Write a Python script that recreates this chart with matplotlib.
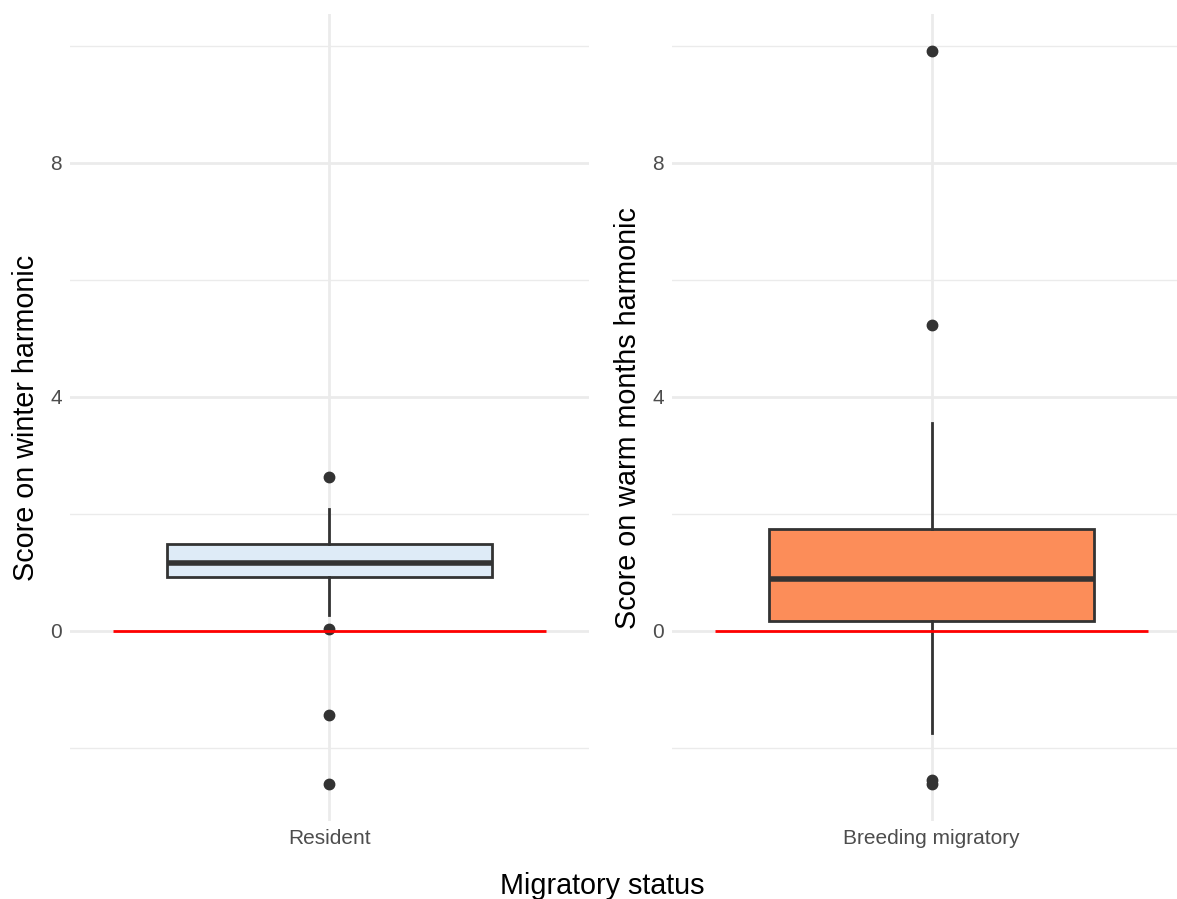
import matplotlib.pyplot as plt
import numpy as np

plt.rcParams['font.family'] = ['Liberation Sans', 'DejaVu Sans']

# box statistics
categories = ['Resident', 'Breeding migratory']
y_titles = ['Score on winter harmonic', 'Score on warm months harmonic']
fills = ['#DEEBF7', '#FC8D59']
whislo = [0.27, -1.75]
q1 = [0.92, 0.17]
med = [1.16, 0.89]
q3 = [1.49, 1.74]
whishi = [2.08, 3.56]
fliers = [[2.63, 0.03, -1.44, -2.62], [9.91, 5.23, -2.55, -2.62]]

edge = '#333333'
fig = plt.figure(figsize=(11.77, 8.99), dpi=100)
lefts = [70 / 1177, 672 / 1177]
w = 519 / 1177
bottom = 1 - 821 / 899
h = (821 - 14.4) / 899

for i in range(2):
    ax = fig.add_axes([lefts[i], bottom, w, h])
    stats = [dict(whislo=whislo[i], q1=q1[i], med=med[i], q3=q3[i],
                  whishi=whishi[i], fliers=fliers[i])]
    ax.bxp(stats, positions=[1], widths=0.75, patch_artist=True, showcaps=False,
           boxprops=dict(facecolor=fills[i], edgecolor=edge, linewidth=2),
           medianprops=dict(color=edge, linewidth=4, solid_capstyle='butt'),
           whiskerprops=dict(color=edge, linewidth=2),
           flierprops=dict(marker='o', markerfacecolor=edge, markeredgecolor=edge,
                           markersize=7.5, linestyle='none'),
           zorder=3)
    ax.hlines(0, 0.5, 1.5, color='red', linewidth=2, zorder=5)

    ax.set_xlim(0.4, 1.6)
    ax.set_ylim(-3.25, 10.54)
    ax.set_yticks([0, 4, 8])
    ax.set_yticks([-2, 2, 6, 10], minor=True)
    ax.set_xticks([1])
    ax.set_xticklabels([categories[i]])
    ax.grid(which='major', color='#EBEBEB', linewidth=2)
    ax.grid(which='minor', axis='y', color='#EBEBEB', linewidth=1)
    ax.set_axisbelow(True)
    for s in ax.spines.values():
        s.set_visible(False)
    ax.tick_params(which='both', length=0, labelsize=15, labelcolor='#4D4D4D', pad=6)
    ax.set_ylabel(y_titles[i], fontsize=20.7, color='black', labelpad=7)

fig.text(602 / 1177, 1 - 886 / 899, 'Migratory status', fontsize=20.7,
         ha='center', va='center')

plt.savefig('out.png', dpi=100)
